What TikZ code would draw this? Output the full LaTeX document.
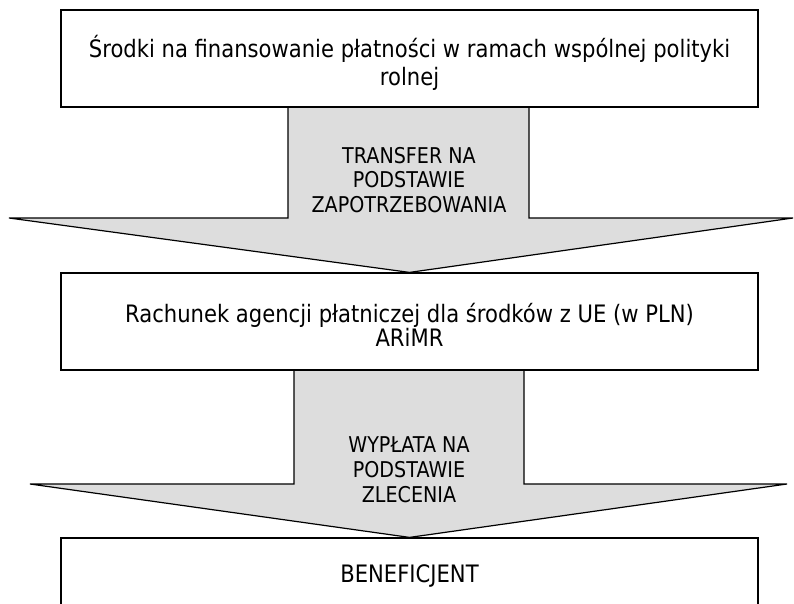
\documentclass[tikz,border=0pt]{standalone}
\usepackage{fontspec}
\setmainfont{DejaVu Sans}[FakeStretch=0.88]
\usetikzlibrary{backgrounds}
\definecolor{flowgray}{RGB}{221,221,221}
\tikzset{
  box/.style={draw, line width=0.9pt, fill=white, minimum width=522.75pt, inner sep=0pt},
  boxtext/.style={inner sep=0pt, align=center, font=\fontsize{18}{21}\selectfont},
  flow/.style={draw, line width=0.9pt, fill=flowgray, line join=miter},
  flowtext/.style={inner sep=0pt, align=center, font=\fontsize{16.3}{18.5}\selectfont}
}

\begin{document}
\begin{tikzpicture}[x=0.75pt,y=0.75pt,yscale=-1,xscale=1]
\useasboundingbox (0,0) rectangle (794,604);

% Boxes
\node [box, minimum height=72.75pt] (funds) at (409.5,58.5) {};
\node [box, minimum height=72.75pt] (agency) at (409.5,321.5) {};
\node [box, minimum height=55.5pt] (benef) at (409.5,575) {};

% Block arrows
\begin{scope}[on background layer]
%Shape: Down Arrow
\path [flow] (288,107) -- (288,218) -- (9,218) -- (agency.north) -- (793,218) -- (529,218) -- (529,107);
%Shape: Down Arrow
\path [flow] (294,370) -- (294,484) -- (30,484) -- (benef.north) -- (787,484) -- (524,484) -- (524,370);
\end{scope}

% Text Node
\node [boxtext] (fundslabel) at (409.5,63) {Środki na finansowanie płatności w ramach wspólnej polityki\\rolnej};
% Text Node
\node [boxtext, font=\fontsize{18}{18}\selectfont] (agencylabel) at (409.5,324.5) {Rachunek agencji płatniczej dla środków z UE (w PLN)\\ARiMR};
% Text Node
\node [boxtext] (beneflabel) at (409.5,575.5) {BENEFICJENT};
% Text Node
\node [flowtext] (transfer) at (409,179.8) {TRANSFER NA\\PODSTAWIE\\ZAPOTRZEBOWANIA};
% Text Node
\node [flowtext] (payout) at (409,469.8) {WYPŁATA NA\\PODSTAWIE\\ZLECENIA};

\end{tikzpicture}
\end{document}
